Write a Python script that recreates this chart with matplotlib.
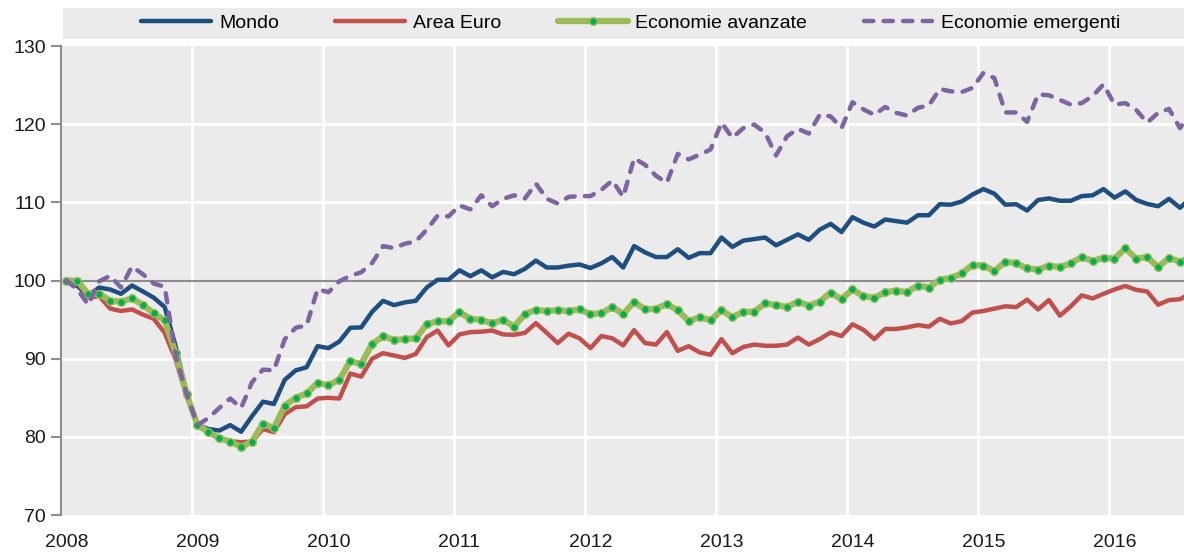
import numpy as np
import matplotlib
matplotlib.use("Agg")
import matplotlib.pyplot as plt
from matplotlib.patches import Rectangle

plt.rcParams['font.family'] = ['Liberation Sans', 'DejaVu Sans']
plt.rcParams['font.size'] = 14

# monthly index, Jan 2008 = 100 (Jan 2008 - Aug 2016)
mondo = [100.0, 99.3, 98.1, 99.1, 98.85, 98.3, 99.36, 98.6, 97.8, 96.6,
         91.6, 85.5, 81.5, 81.0, 80.8, 81.5, 80.65, 82.65, 84.5, 84.2,
         87.3, 88.5, 88.9, 91.6, 91.35, 92.2, 93.95, 94.0, 96.0, 97.4,
         96.85, 97.2, 97.4, 99.1, 100.1, 100.1, 101.3, 100.55, 101.3, 100.4,
         101.1, 100.8, 101.5, 102.55, 101.66, 101.66, 101.9, 102.05, 101.6, 102.2,
         103.0, 101.66, 104.4, 103.6, 103.0, 103.0, 104.0, 102.9, 103.5, 103.5,
         105.5, 104.3, 105.1, 105.3, 105.5, 104.5, 105.2, 105.9, 105.2, 106.5,
         107.25, 106.2, 108.1, 107.4, 106.9, 107.8, 107.6, 107.4, 108.35, 108.35,
         109.76, 109.7, 110.1, 111.0, 111.7, 111.1, 109.7, 109.76, 108.95, 110.3,
         110.5, 110.2, 110.2, 110.8, 110.9, 111.7, 110.6, 111.4, 110.3, 109.8,
         109.5, 110.45, 109.3, 110.6]

area_euro = [100.0, 99.5, 97.8, 98.0, 96.4, 96.1, 96.3, 95.65, 95.1, 93.3,
             89.9, 85.2, 81.6, 80.7, 79.9, 79.45, 79.3, 79.4, 81.0, 80.6,
             82.9, 83.8, 83.9, 84.9, 85.0, 84.9, 88.1, 87.7, 90.0, 90.7,
             90.4, 90.1, 90.6, 92.75, 93.6, 91.7, 93.1, 93.4, 93.45, 93.6,
             93.1, 93.05, 93.3, 94.55, 93.3, 92.0, 93.2, 92.6, 91.35, 92.9,
             92.6, 91.7, 93.65, 92.0, 91.8, 93.4, 91.0, 91.6, 90.8, 90.5,
             92.5, 90.7, 91.5, 91.8, 91.65, 91.65, 91.8, 92.7, 91.8, 92.5,
             93.35, 92.9, 94.4, 93.7, 92.5, 93.8, 93.8, 94.0, 94.3, 94.1,
             95.1, 94.5, 94.8, 95.9, 96.1, 96.4, 96.7, 96.6, 97.55, 96.3,
             97.5, 95.5, 96.7, 98.1, 97.7, 98.3, 98.85, 99.3, 98.8, 98.6,
             96.9, 97.5, 97.6, 98.4]

avanzate = [100.0, 99.95, 98.25, 98.3, 97.4, 97.3, 97.7, 96.9, 95.8, 94.9,
            90.7, 85.5, 81.5, 80.65, 79.8, 79.4, 78.7, 79.4, 81.7, 81.1,
            84.0, 85.0, 85.55, 86.9, 86.6, 87.3, 89.7, 89.3, 91.9, 92.85,
            92.4, 92.5, 92.6, 94.4, 94.8, 94.8, 95.95, 95.1, 94.97, 94.5,
            95.0, 94.1, 95.7, 96.25, 96.1, 96.2, 96.1, 96.3, 95.7, 95.8,
            96.6, 95.7, 97.25, 96.3, 96.4, 96.97, 96.2, 94.8, 95.3, 94.9,
            96.2, 95.3, 96.0, 96.0, 97.1, 96.85, 96.6, 97.3, 96.8, 97.3,
            98.45, 97.6, 98.85, 98.0, 97.8, 98.5, 98.7, 98.5, 99.36, 99.1,
            100.1, 100.3, 100.9, 102.0, 101.9, 101.2, 102.4, 102.2, 101.55, 101.4,
            101.9, 101.7, 102.2, 103.0, 102.5, 102.9, 102.8, 104.1, 102.8, 103.0,
            101.7, 102.9, 102.4, 103.0]

emergenti = [100.0, 98.85, 96.9, 99.9, 100.6, 99.1, 101.8, 100.8, 99.6, 99.2,
             90.4, 85.5, 81.5, 82.4, 83.7, 84.9, 83.7, 87.0, 88.6, 88.5,
             92.5, 93.95, 94.25, 98.9, 98.5, 99.9, 100.6, 101.05, 102.25, 104.4,
             104.15, 104.7, 105.0, 106.5, 108.3, 108.2, 109.6, 109.1, 110.9, 109.5,
             110.45, 110.9, 110.5, 112.4, 110.45, 109.85, 110.7, 110.8, 110.8, 111.6,
             112.8, 110.7, 115.65, 114.8, 113.4, 112.5, 116.2, 115.5, 116.1, 116.75,
             120.2, 118.25, 119.5, 119.95, 118.9, 116.0, 118.45, 119.4, 118.8, 121.2,
             121.0, 119.5, 122.8, 121.9, 121.2, 122.2, 121.45, 121.1, 122.1, 122.4,
             124.5, 124.2, 124.1, 124.65, 126.56, 125.9, 121.5, 121.5, 120.3, 123.8,
             123.7, 123.1, 122.5, 122.7, 123.6, 125.1, 122.5, 122.7, 121.8, 120.2,
             121.45, 121.95, 119.5, 121.5]

years = list(range(2008, 2017))
labels = ['Mondo', 'Area Euro', 'Economie avanzate', 'Economie emergenti']

n = len(mondo)
x = 2008 + (np.arange(n) + 0.5) / 12.0   # points sit in the middle of each month

fig = plt.figure(figsize=(11.84, 5.52), dpi=100)
ax = fig.add_axes([61 / 1184, 37 / 552, 1 - 61 / 1184, 469 / 552])
ax.set_facecolor('#ebebeb')

# grid
for yr in years[1:]:
    ax.axvline(yr, color='white', lw=2, zorder=1)
for v in [80, 90, 110, 120]:
    ax.axhline(v, color='white', lw=2, zorder=1)
ax.axhline(100, color='#8c8c8c', lw=1.5, zorder=1)

l2, = ax.plot(x, area_euro, color='#c0504d', lw=3.2, zorder=3, label=labels[1],
              solid_capstyle='round')
l1, = ax.plot(x, mondo, color='#1f4e80', lw=3.2, zorder=4, label=labels[0],
              solid_capstyle='round')
l3, = ax.plot(x, avanzate, color='#9bbb59', lw=4.5, marker='o', ms=5.5,
              mfc='#00b050', mec='#9bbb59', mew=1, zorder=5, label=labels[2],
              solid_capstyle='round')
l4, = ax.plot(x, emergenti, color='#8064a2', lw=3.2, zorder=6, label=labels[3],
              dashes=(2.1, 2.3), dash_capstyle='round')

ax.set_xlim(2008, 2008 + (1184 - 61) / 131.0)
ax.set_ylim(70, 130)
ax.set_yticks(range(70, 131, 10))
ax.set_xticks([yr + 0.5 / 12 for yr in years])
ax.set_xticklabels([str(yr) for yr in years])
ax.tick_params(axis='x', length=0, pad=14, labelsize=14, colors='#1a1a1a')
ax.tick_params(axis='y', length=7, width=1.5, color='#8c8c8c', pad=4,
               labelsize=14, labelcolor='#1a1a1a')
for s in ['top', 'right', 'bottom']:
    ax.spines[s].set_visible(False)
ax.spines['left'].set_color('#8c8c8c')
ax.spines['left'].set_linewidth(1.5)

# legend band on top
fig.patches.append(Rectangle((63 / 1184, 513 / 552), 1 - 63 / 1184, 31 / 552,
                             transform=fig.transFigure, facecolor='#ebebeb',
                             edgecolor='none', zorder=0))
fig.legend(handles=[l1, l2, l3, l4], loc='center', ncol=4, frameon=False,
           bbox_to_anchor=(631 / 1184, 528.5 / 552), handlelength=3.6,
           handletextpad=0.4, columnspacing=2.9, numpoints=1, fontsize=14,
           borderpad=0, borderaxespad=0)

fig.savefig('out.png', dpi=100)
